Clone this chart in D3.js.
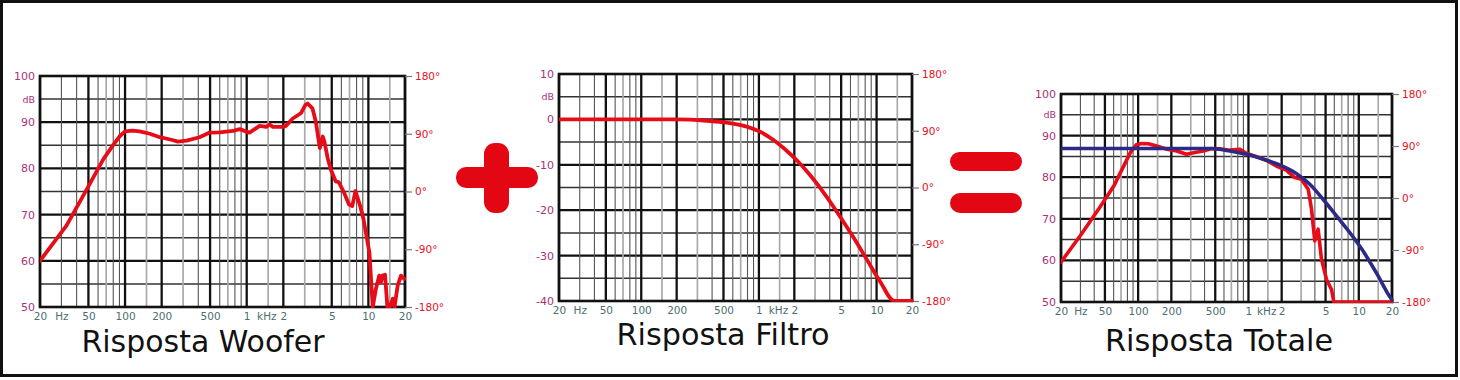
<!DOCTYPE html>
<html><head><meta charset="utf-8">
<script src="https://cdn.jsdelivr.net/npm/d3@7"></script>
<style>
html,body{margin:0;padding:0;background:#fff;}
svg{display:block;}
text{font-family:"DejaVu Sans",Verdana,sans-serif;}
</style></head>
<body>
<svg id="c" width="1460" height="380"></svg>
<script>
// ---------- DATA ----------
const xTickValues = [20, 30, 50, 100, 200, 500, 1000, 1450, 2000, 5000, 10000, 20000];
const xTickLabels = ["20", "Hz", "50", "100", "200", "500", "1", "kHz", "2", "5", "10", "20"];
const majorFreqs = [20, 50, 100, 200, 500, 1000, 2000, 5000, 10000, 20000];
const minorDarkFreqs = [30, 40, 60, 80, 90, 400, 600, 800, 900, 4000, 6000, 8000, 9000];
const minorLightFreqs = [70, 150, 300, 700, 1500, 3000, 7000, 15000];

const phaseTicks = [180, 90, 0, -90, -180];
const phaseLabels = ["180°", "90°", "0°", "-90°", "-180°"];

const dbTicksA = [100, 95, 90, 80, 70, 60, 50];
const dbLabelsA = ["100", "dB", "90", "80", "70", "60", "50"];
const dbTicksB = [10, 5, 0, -10, -20, -30, -40];
const dbLabelsB = ["10", "dB", "0", "-10", "-20", "-30", "-40"];

const titles = ["Risposta Woofer", "Risposta Filtro", "Risposta Totale"];

// Woofer response (Hz, dB)
const wooferFreq = [20, 33, 50, 66, 80, 90, 100, 115, 132, 160, 193, 240, 272, 320, 410, 496, 600, 770, 875, 1054, 1277, 1445, 1540, 1640, 1985, 2100, 2390, 2630, 2800, 3030, 3170, 3470, 3700, 3990, 4220, 4350, 4630, 4920, 5380, 5720, 6320, 6930, 7370, 7830, 8570, 9120, 10200, 10860, 11550, 12290, 12680, 13080, 13700, 14330, 14950, 15880, 16400, 17430, 18540, 19720];
const wooferDb =   [60, 67.6, 76.1, 81.9, 85.1, 86.9, 88.0, 88.2, 88.0, 87.5, 86.75, 86.2, 85.8, 86.0, 86.75, 87.75, 87.8, 88.1, 88.5, 87.75, 89.2, 89.0, 89.5, 89.0, 89.0, 89.2, 90.8, 91.5, 92.0, 93.7, 94.05, 93.0, 90.1, 84.4, 86.9, 85.8, 82.2, 79.7, 77.2, 77.0, 74.7, 72.2, 71.85, 75.1, 71.85, 69.0, 61.8, 50, 54, 56.8, 55.4, 56.8, 57.0, 50, 50, 51.8, 50, 54.7, 56.8, 56.1];

// Filter response (Hz, dB)
const filterFreq = [20, 100, 200, 360, 533, 788, 1020, 1330, 1720, 2100, 2730, 3780, 4920, 6430, 8320, 10770, 14140, 20000];
const filterDb =   [0, 0, 0, -0.3, -0.7, -1.6, -2.7, -4.55, -6.9, -9.0, -12.3, -17.1, -21.5, -26.2, -31.0, -35.8, -40, -40];

// Total: blue (filtered target) and red (measured)
const totalBlueFreq = [20, 100, 300, 448, 680, 964, 1370, 1940, 2730, 3600, 4740, 6280, 8280, 10900, 14400, 19400, 20000];
const totalBlueDb =   [86.9, 86.9, 86.9, 86.9, 86.3, 85.5, 84.3, 82.9, 80.85, 78.3, 74.7, 70.7, 66.7, 62.3, 57.05, 51.0, 50.5];
const totalRedFreq = [20, 30, 45, 60, 85, 96, 108, 124, 147, 183, 224, 275, 318, 389, 464, 550, 680, 838, 964, 1190, 1460, 1790, 2200, 2630, 3020, 3480, 3730, 3990, 4280, 4590, 5100, 5660, 5940, 20000];
const totalRedDb =   [59.6, 66, 72.8, 77.8, 85.9, 87.8, 88.1, 88.05, 87.5, 86.7, 86.3, 85.5, 85.9, 86.3, 86.9, 86.85, 86.5, 86.7, 85.7, 84.9, 84.05, 82.7, 81.7, 79.9, 79.5, 77.1, 72.3, 64.7, 67.5, 60.3, 55.4, 53.0, 50, 50];

// ---------- DRAW ----------
const svg = d3.select("#c");
const RED = "#e60d18", BLUE = "#2c2a86", MAG = "#a83278", XLAB = "#4d6e6e", PRED = "#e8101c";

svg.append("rect").attr("x", 1.5).attr("y", 1.5).attr("width", 1455).attr("height", 374)
  .attr("fill", "#fff").attr("stroke", "#111").attr("stroke-width", 3);

function chart(cfg, idx) {
  const x = d3.scaleLog().domain([20, 20000]).range([cfg.x0, cfg.x1]);
  const y = d3.scaleLinear().domain(cfg.dbDomain).range([cfg.y1, cfg.y0]);
  const ph = d3.scaleLinear().domain([-180, 180]).range([cfg.y1, cfg.y0]);
  const g = svg.append("g");

  const hv = d3.range(cfg.dbDomain[0], cfg.dbDomain[1] + 0.1, 5);
  g.selectAll(".hg").data(hv).join("line")
    .attr("x1", cfg.x0).attr("x2", cfg.x1)
    .attr("y1", d => y(d)).attr("y2", d => y(d))
    .attr("stroke", d => (d % 10 === 0) ? "#111" : "#333")
    .attr("stroke-width", d => (d % 10 === 0) ? 2.2 : 1.5);
  g.selectAll(".vl").data(minorLightFreqs).join("line")
    .attr("x1", d => x(d)).attr("x2", d => x(d)).attr("y1", cfg.y0).attr("y2", cfg.y1)
    .attr("stroke", "#aaaaaa").attr("stroke-width", 1.7);
  g.selectAll(".vd").data(minorDarkFreqs).join("line")
    .attr("x1", d => x(d)).attr("x2", d => x(d)).attr("y1", cfg.y0).attr("y2", cfg.y1)
    .attr("stroke", "#555").attr("stroke-width", 1.1);
  g.selectAll(".vm").data(majorFreqs).join("line")
    .attr("x1", d => x(d)).attr("x2", d => x(d)).attr("y1", cfg.y0).attr("y2", cfg.y1)
    .attr("stroke", "#111").attr("stroke-width", 2.3);
  g.append("rect").attr("x", cfg.x0).attr("y", cfg.y0)
    .attr("width", cfg.x1 - cfg.x0).attr("height", cfg.y1 - cfg.y0)
    .attr("fill", "none").attr("stroke", "#111").attr("stroke-width", 2.6);

  const xa = g.append("g").attr("transform", `translate(0,${cfg.y1})`)
    .call(d3.axisBottom(x).tickValues(xTickValues).tickSize(0).tickPadding(5)
      .tickFormat((d, i) => xTickLabels[i]));
  xa.select(".domain").remove();
  xa.selectAll("text").attr("fill", XLAB).attr("font-size", 10.5)
    .attr("font-family", "DejaVu Sans, sans-serif").attr("dy", "0.75em");

  const ya = g.append("g").attr("transform", `translate(${cfg.x0},0)`)
    .call(d3.axisLeft(y).tickValues(cfg.dbTicks).tickSize(0).tickPadding(5)
      .tickFormat((d, i) => cfg.dbLabels[i]));
  ya.select(".domain").remove();
  ya.selectAll("text").attr("fill", MAG).attr("font-size", d => d === cfg.dbTicks[1] ? 9.5 : 11)
    .attr("font-family", "DejaVu Sans, sans-serif");

  const pa = g.append("g").attr("transform", `translate(${cfg.x1},0)`)
    .call(d3.axisRight(ph).tickValues(phaseTicks).tickSize(7).tickPadding(3)
      .tickFormat((d, i) => phaseLabels[i]));
  pa.select(".domain").remove();
  pa.selectAll("line").attr("stroke", "#777").attr("stroke-width", 1.2);
  pa.selectAll("text").attr("fill", PRED).attr("font-size", 10.5)
    .attr("font-family", "DejaVu Sans, sans-serif");

  const clipId = "clip" + idx;
  svg.append("clipPath").attr("id", clipId).append("rect")
    .attr("x", cfg.x0).attr("y", cfg.y0 - 3).attr("width", cfg.x1 - cfg.x0 + 2).attr("height", cfg.y1 - cfg.y0 + 4);
  cfg.series.forEach(s => {
    const line = d3.line().x(d => x(d[0])).y(d => y(d[1]))
      .curve(s.smooth ? d3.curveMonotoneX : d3.curveLinear);
    g.append("path").datum(d3.zip(s.f, s.v)).attr("d", line)
      .attr("clip-path", `url(#${clipId})`)
      .attr("fill", "none").attr("stroke", s.color).attr("stroke-width", s.w)
      .attr("stroke-linejoin", "round").attr("stroke-linecap", "round");
  });

  g.append("text").attr("x", cfg.tx).attr("y", cfg.ty).attr("text-anchor", "middle")
    .attr("font-size", 31).attr("fill", "#111")
    .attr("textLength", cfg.tw).attr("lengthAdjust", "spacingAndGlyphs")
    .text(titles[idx]);
}

chart({x0: 40, x1: 405, y0: 76, y1: 307, dbDomain: [50, 100], dbTicks: dbTicksA, dbLabels: dbLabelsA,
  series: [{f: wooferFreq, v: wooferDb, color: RED, w: 3.8}], tx: 203, ty: 352, tw: 243}, 0);
chart({x0: 559, x1: 912, y0: 74, y1: 301, dbDomain: [-40, 10], dbTicks: dbTicksB, dbLabels: dbLabelsB,
  series: [{f: filterFreq, v: filterDb, color: RED, w: 3.8, smooth: true}], tx: 723, ty: 345, tw: 213}, 1);
chart({x0: 1061, x1: 1392, y0: 94, y1: 302, dbDomain: [50, 100], dbTicks: dbTicksA, dbLabels: dbLabelsA,
  series: [{f: totalRedFreq, v: totalRedDb, color: RED, w: 3.6}, {f: totalBlueFreq, v: totalBlueDb, color: BLUE, w: 3.6, smooth: true}],
  tx: 1219, ty: 351, tw: 228}, 2);

const OP = "#e30613";
svg.append("rect").attr("x", 456).attr("y", 167).attr("width", 82).attr("height", 21).attr("rx", 10).attr("fill", OP);
svg.append("rect").attr("x", 484).attr("y", 143).attr("width", 25).attr("height", 70).attr("rx", 11).attr("fill", OP);
svg.append("rect").attr("x", 950).attr("y", 152).attr("width", 72).attr("height", 19).attr("rx", 9.5).attr("fill", OP);
svg.append("rect").attr("x", 950).attr("y", 193).attr("width", 72).attr("height", 20).attr("rx", 10).attr("fill", OP);
</script>
</body></html>
